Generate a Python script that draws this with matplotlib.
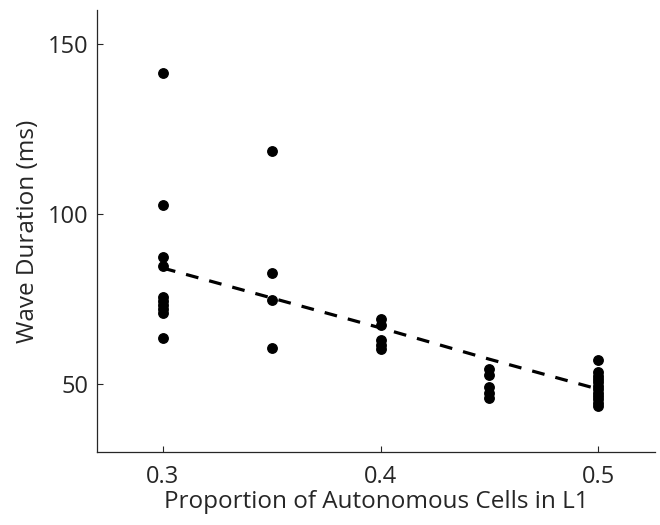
import matplotlib
matplotlib.use("Agg")
import matplotlib.pyplot as plt

plt.rcParams['font.family'] = ['Open Sans', 'DejaVu Sans']

# proportion of autonomous cells -> wave durations (ms)
prop = [0.3, 0.35, 0.4, 0.45, 0.5]
dur_03 = [141.6, 102.6, 87.5, 84.6, 75.6, 74.5, 73.2, 72.0, 71.0, 63.6]
dur_035 = [118.5, 82.6, 74.8, 60.6]
dur_04 = [69.2, 67.3, 62.8, 61.5, 60.4]
dur_045 = [54.5, 52.6, 49.0, 47.4, 45.8]
dur_05 = [57.2, 53.5, 52.5, 51.5, 50.5, 49.5, 48.5, 47.5, 46.5, 45.5, 44.5, 43.6]
trend = [84.1, 75.3, 66.5, 57.3, 48.5]

groups = [dur_03, dur_035, dur_04, dur_045, dur_05]

ink = '#262626'
fig = plt.figure(figsize=(6.6, 5.25), dpi=100)
ax = fig.add_axes([0.147, 0.139, 0.845, 0.842])

for x, ys in zip(prop, groups):
    ax.plot([x] * len(ys), ys, 'o', color='black', markersize=6.8, zorder=3)

ax.plot(prop, trend, '--', color='black', linewidth=2.3, dashes=(4, 3.5), zorder=2)

ax.set_xlim(0.2697, 0.526)
ax.set_ylim(30, 160)
ax.set_xticks([0.3, 0.4, 0.5])
ax.set_xticklabels(['0.3', '0.4', '0.5'])
ax.set_yticks([50, 100, 150])

for s in ['top', 'right']:
    ax.spines[s].set_visible(False)
for s in ['left', 'bottom']:
    ax.spines[s].set_color(ink)
    ax.spines[s].set_linewidth(0.9)
ax.tick_params(direction='in', length=4, width=0.8, color=ink,
               labelcolor=ink, labelsize=17)
ax.tick_params(axis='y', pad=6)
ax.tick_params(axis='x', pad=9)

ax.set_xlabel('Proportion of Autonomous Cells in L1', fontsize=17.5, color=ink, labelpad=1)
ax.set_ylabel('Wave Duration (ms)', fontsize=17.5, color=ink, labelpad=6)

fig.savefig('out.png', dpi=100)
